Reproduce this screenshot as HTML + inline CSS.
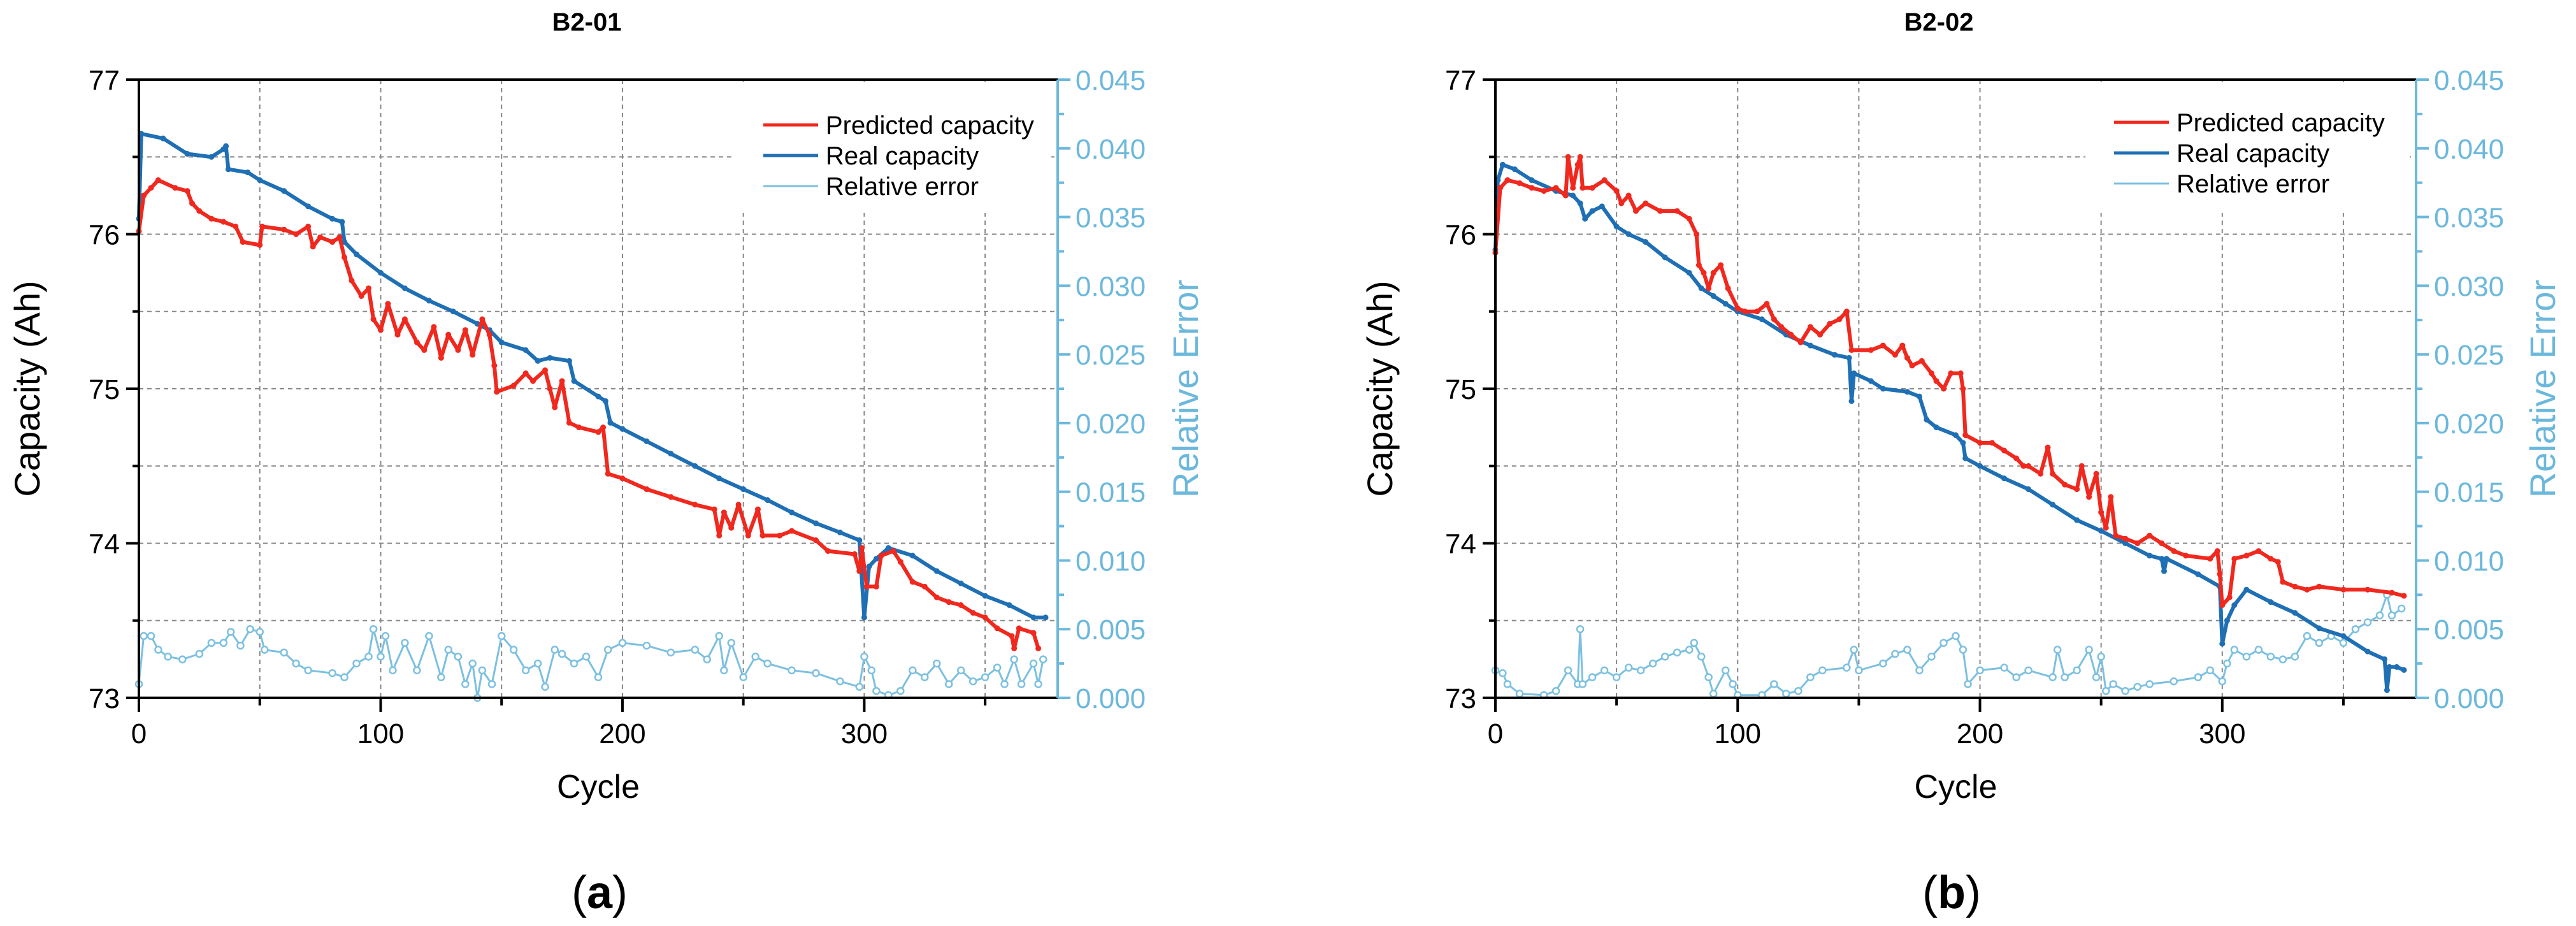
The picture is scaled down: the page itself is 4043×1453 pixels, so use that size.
<!DOCTYPE html>
<html><head><meta charset="utf-8"><style>
html,body{margin:0;padding:0;background:#fff}
svg{display:block}
text{font-family:"Liberation Sans",sans-serif}
</style></head><body>
<svg id="fig" width="4043" height="1453" viewBox="0 0 4043 1453" xmlns="http://www.w3.org/2000/svg"></svg>
<script>
// ---- Chart (a) B2-01 data ----
const aRealCycles=[0,1,10,20,30,35,36,37,45,50,60,70,80,84,85,90,100,110,120,130,140,145,150,160,165,170,178,180,190,193,195,200,210,220,230,240,250,260,270,280,290,298,300,302,305,310,320,330,340,350,360,370,375];
const aRealCap=[76.1,76.65,76.62,76.52,76.5,76.55,76.57,76.42,76.4,76.35,76.28,76.18,76.1,76.08,75.95,75.87,75.75,75.65,75.57,75.5,75.42,75.38,75.3,75.25,75.18,75.2,75.18,75.05,74.95,74.92,74.78,74.74,74.66,74.58,74.5,74.42,74.35,74.28,74.2,74.13,74.07,74.02,73.52,73.85,73.9,73.97,73.92,73.82,73.74,73.66,73.6,73.52,73.52];
const aPredCycles=[0,2,5,8,15,20,22,25,30,35,40,43,50,51,60,65,70,72,75,80,83,85,88,92,95,97,100,103,107,110,115,118,122,125,128,132,135,138,142,145,147,148,155,160,163,168,170,172,175,178,182,190,192,194,200,210,220,230,238,240,242,245,248,252,256,258,265,270,280,285,296,298,299,301,305,307,312,315,320,325,330,335,340,345,350,355,361,362,364,370,372];
const aPredCap=[76.02,76.25,76.3,76.35,76.3,76.28,76.2,76.15,76.1,76.08,76.05,75.95,75.93,76.05,76.03,76.0,76.05,75.92,75.98,75.95,75.98,75.85,75.7,75.6,75.65,75.45,75.38,75.55,75.35,75.45,75.3,75.25,75.4,75.2,75.35,75.25,75.38,75.22,75.45,75.35,75.15,74.98,75.02,75.1,75.05,75.12,75.0,74.88,75.05,74.78,74.75,74.72,74.75,74.45,74.42,74.35,74.3,74.25,74.22,74.05,74.2,74.1,74.25,74.05,74.22,74.05,74.05,74.08,74.02,73.95,73.93,73.82,73.97,73.72,73.72,73.92,73.95,73.88,73.75,73.72,73.65,73.62,73.6,73.55,73.52,73.45,73.4,73.32,73.45,73.42,73.32];
const aErrCycles=[0,2,5,8,12,18,25,30,35,38,42,46,50,52,60,65,70,80,85,90,95,97,100,102,105,110,115,120,125,128,132,135,138,140,142,146,150,155,160,165,168,172,175,180,185,190,194,200,210,220,230,235,240,242,245,250,255,260,270,280,290,298,300,303,305,310,315,320,325,330,335,340,345,350,355,358,362,365,370,372,374];
const aErr=[0.001,0.0045,0.0045,0.0035,0.003,0.0028,0.0032,0.004,0.004,0.0048,0.0038,0.005,0.0048,0.0035,0.0033,0.0025,0.002,0.0018,0.0015,0.0025,0.003,0.005,0.003,0.0045,0.002,0.004,0.002,0.0045,0.0015,0.0035,0.003,0.001,0.0025,0.0,0.002,0.001,0.0045,0.0035,0.002,0.0025,0.0008,0.0035,0.0032,0.0025,0.003,0.0015,0.0035,0.004,0.0038,0.0033,0.0035,0.0028,0.0045,0.002,0.004,0.0015,0.003,0.0025,0.002,0.0018,0.0012,0.0008,0.003,0.002,0.0005,0.0002,0.0005,0.002,0.0015,0.0025,0.001,0.002,0.0012,0.0015,0.0022,0.001,0.0028,0.001,0.0025,0.001,0.0028];
// ---- Chart (b) B2-02 data ----
const bRealCycles=[0,1,3,8,15,25,32,35,37,40,44,50,55,62,70,80,85,90,95,100,110,120,130,140,146,147,148,155,160,170,175,178,182,190,193,194,200,210,220,230,240,250,260,270,275,276,277,290,299,300,302,305,310,320,330,340,350,360,367,368,369,372,375];
const bRealCap=[75.9,76.35,76.45,76.42,76.35,76.28,76.25,76.2,76.1,76.15,76.18,76.05,76.0,75.95,75.85,75.75,75.65,75.6,75.55,75.5,75.45,75.35,75.28,75.22,75.2,74.92,75.1,75.05,75.0,74.98,74.95,74.8,74.75,74.7,74.65,74.55,74.5,74.42,74.35,74.25,74.15,74.08,74.0,73.92,73.9,73.82,73.9,73.8,73.72,73.35,73.5,73.6,73.7,73.62,73.55,73.45,73.4,73.3,73.25,73.05,73.2,73.2,73.18];
const bPredCycles=[0,2,5,10,15,20,25,29,30,32,34,35,36,40,45,50,52,55,58,62,68,75,80,83,84,86,88,90,93,96,100,103,108,112,115,118,122,126,130,134,138,142,145,147,155,160,165,168,170,172,176,180,182,185,188,192,193,194,200,205,210,215,218,220,225,228,230,235,240,242,245,248,250,252,254,256,260,265,270,275,280,285,295,298,299,300,303,305,310,315,320,323,325,330,335,340,350,360,370,375];
const bPredCap=[75.88,76.3,76.35,76.33,76.3,76.28,76.3,76.25,76.5,76.3,76.45,76.5,76.3,76.3,76.35,76.28,76.2,76.25,76.15,76.2,76.15,76.15,76.1,76.0,75.8,75.75,75.65,75.75,75.8,75.65,75.52,75.5,75.5,75.55,75.45,75.4,75.35,75.3,75.4,75.35,75.42,75.45,75.5,75.25,75.25,75.28,75.22,75.28,75.2,75.15,75.18,75.1,75.05,75.0,75.1,75.1,75.0,74.7,74.65,74.65,74.6,74.55,74.5,74.5,74.45,74.62,74.45,74.38,74.35,74.5,74.3,74.45,74.2,74.1,74.3,74.05,74.03,74.0,74.05,74.0,73.95,73.92,73.9,73.95,73.8,73.6,73.65,73.9,73.92,73.95,73.9,73.88,73.75,73.72,73.7,73.72,73.7,73.7,73.68,73.66];
const bErrCycles=[0,3,5,10,20,25,30,34,35,36,40,45,50,55,60,65,70,75,80,82,85,88,90,95,98,100,110,115,120,125,130,135,145,148,150,160,165,170,175,180,185,190,193,195,200,210,215,220,230,232,235,240,245,248,250,252,255,260,265,270,280,290,295,300,302,305,310,315,320,325,330,335,340,345,350,355,360,365,368,370,374];
const bErr=[0.002,0.0018,0.001,0.0003,0.0002,0.0005,0.002,0.001,0.005,0.001,0.0015,0.002,0.0015,0.0022,0.002,0.0025,0.003,0.0033,0.0035,0.004,0.003,0.0015,0.0003,0.002,0.001,0.0002,0.0002,0.001,0.0003,0.0005,0.0015,0.002,0.0022,0.0035,0.002,0.0025,0.0032,0.0035,0.002,0.003,0.004,0.0045,0.0035,0.001,0.002,0.0022,0.0015,0.002,0.0015,0.0035,0.0015,0.002,0.0035,0.0015,0.003,0.0005,0.001,0.0005,0.0008,0.001,0.0012,0.0015,0.002,0.0012,0.0025,0.0035,0.003,0.0035,0.003,0.0028,0.003,0.0045,0.004,0.0045,0.004,0.005,0.0055,0.006,0.0075,0.006,0.0065];
// axis tick labels
const xTicks=[0,100,200,300];
const xMinorTicks=[50,150,250,350];
const yTicks=[73,74,75,76,77];
const yMinorTicks=[73.5,74.5,75.5,76.5];
const errTicks=[0,0.005,0.01,0.015,0.02,0.025,0.03,0.035,0.04,0.045];
const errLabels=["0.000","0.005","0.010","0.015","0.020","0.025","0.030","0.035","0.040","0.045"];

const NS="http://www.w3.org/2000/svg";
const svg=document.getElementById('fig');
const RED="#f0281e",BLUE="#1f6fb4",LBLUE="#7cc0e0",AX="#6cb8dc";
function mk(tag,attrs,parent){const e=document.createElementNS(NS,tag);for(const k in attrs)e.setAttribute(k,attrs[k]);(parent||svg).appendChild(e);return e;}

function drawChart(o){
  const g=mk('g',{});
  
  
  const L=o.L,R=o.R,T=125,B=1095;
  const sx=c=>L+c*(R-L)/380;
  const sy=v=>B-(v-73)*(B-T)/4;
  const se=v=>B-v*(B-T)/0.045;
  // grid
  const grid=mk('g',{stroke:'#888','stroke-width':2,'stroke-dasharray':'7,6'},g);
  
  
  xTicks.concat(xMinorTicks).forEach(c=>{if(c>0)mk('line',{x1:sx(c),x2:sx(c),y1:T,y2:B},grid);});
  yTicks.concat(yMinorTicks).forEach(v=>{if(v>73&&v<77)mk('line',{x1:L,x2:R,y1:sy(v),y2:sy(v)},grid);});
  // legend background mask
  mk('rect',{x:o.lx-45,y:T+4,width:R-o.lx+35,height:205,fill:'#fff'},g);
  // series
  function series(cyc,vals,scale,color,w,name,open){
    const pts=cyc.map((c,i)=>sx(c).toFixed(1)+','+scale(vals[i]).toFixed(1)).join(' ');
    const pl=mk('polyline',{points:pts,fill:'none',stroke:color,'stroke-width':w,'stroke-linejoin':'round'},g);
    
    
    const mg=mk('g',{},g);
    
    
    cyc.forEach((c,i)=>{mk('circle',{cx:sx(c),cy:scale(vals[i]),r:open?5:4.5,fill:open?'#fff':color,stroke:color,'stroke-width':open?2.5:0},mg);});
  }
  series(o.errC,o.err,se,LBLUE,3,'relative-error-line',true);
  series(o.realC,o.real,sy,BLUE,6,'real-capacity-line',false);
  series(o.predC,o.pred,sy,RED,6,'predicted-capacity-line',false);
  // axes
  mk('line',{x1:L,x2:R,y1:T,y2:T,stroke:'#000','stroke-width':4},g);
  mk('line',{x1:L,x2:L,y1:T-2,y2:B+2,stroke:'#000','stroke-width':4},g);
  mk('line',{x1:L,x2:R,y1:B,y2:B,stroke:'#000','stroke-width':4},g);
  mk('line',{x1:R,x2:R,y1:T,y2:B,stroke:AX,'stroke-width':4},g);
  // x ticks
  xTicks.forEach(c=>{mk('line',{x1:sx(c),x2:sx(c),y1:B,y2:B+22,stroke:'#000','stroke-width':4},g);
    const t=mk('text',{x:sx(c),y:1166,'font-size':44,'text-anchor':'middle'},g);t.textContent=c;
    
    });
  xMinorTicks.forEach(c=>mk('line',{x1:sx(c),x2:sx(c),y1:B,y2:B+12,stroke:'#000','stroke-width':4},g));
  yTicks.forEach(v=>{mk('line',{x1:L-20,x2:L,y1:sy(v),y2:sy(v),stroke:'#000','stroke-width':4},g);
    const t=mk('text',{x:L-30,y:sy(v)+16,'font-size':44,'text-anchor':'end'},g);t.textContent=v;
    
    });
  yMinorTicks.forEach(v=>mk('line',{x1:L-10,x2:L,y1:sy(v),y2:sy(v),stroke:'#000','stroke-width':4},g));
  errTicks.forEach((v,i)=>{mk('line',{x1:R,x2:R+20,y1:se(v),y2:se(v),stroke:AX,'stroke-width':4},g);
    if(i<errTicks.length-1)mk('line',{x1:R,x2:R+10,y1:se(v+0.0025),y2:se(v+0.0025),stroke:AX,'stroke-width':4},g);
    const t=mk('text',{x:R+28,y:se(v)+16,'font-size':44,fill:AX},g);t.textContent=errLabels[i];
    
    });
  // titles
  let t=mk('text',{x:o.tx,y:48,'font-size':40,'font-weight':'bold','text-anchor':'middle'},g);t.textContent=o.title;
  
  
  t=mk('text',{x:(L+R)/2,y:1252,'font-size':52,'text-anchor':'middle'},g);t.textContent='Cycle';
  
  
  t=mk('text',{x:0,y:0,'font-size':56,'text-anchor':'middle',transform:`translate(${o.yt},${(T+B)/2}) rotate(-90)`},g);t.textContent='Capacity (Ah)';
  
  
  t=mk('text',{x:0,y:0,'font-size':56,fill:AX,'text-anchor':'middle',transform:`translate(${o.rt},${(T+B)/2}) rotate(-90)`},g);t.textContent='Relative Error';
  
  
  t=mk('text',{x:o.tx+20,y:1425,'font-size':72,'text-anchor':'middle','font-family':'Liberation Serif, serif'},g);
  t.innerHTML='(<tspan font-weight="bold">'+o.sub+'</tspan>)';
  
  
  // legend
  const lg=mk('g',{},g);
  
  
  [['Predicted capacity',RED,5],['Real capacity',BLUE,5],['Relative error',LBLUE,3]].forEach((e,i)=>{
    const y=o.ly+i*48;
    mk('line',{x1:o.lx,x2:o.lx+86,y1:y,y2:y,stroke:e[1],'stroke-width':e[2]},lg);
    const tt=mk('text',{x:o.lx+98,y:y+14,'font-size':40},lg);tt.textContent=e[0];
    
    
  });
}
drawChart({name:'chart-b2-01',title:'B2-01',sub:'a',L:218,R:1660,tx:921,yt:62,rt:1880,lx:1198,ly:196,
  realC:aRealCycles,real:aRealCap,predC:aPredCycles,pred:aPredCap,errC:aErrCycles,err:aErr});
drawChart({name:'chart-b2-02',title:'B2-02',sub:'b',L:2347,R:3792,tx:3043,yt:2185,rt:4010,lx:3318,ly:192,
  realC:bRealCycles,real:bRealCap,predC:bPredCycles,pred:bPredCap,errC:bErrCycles,err:bErr});
</script>
</body></html>
